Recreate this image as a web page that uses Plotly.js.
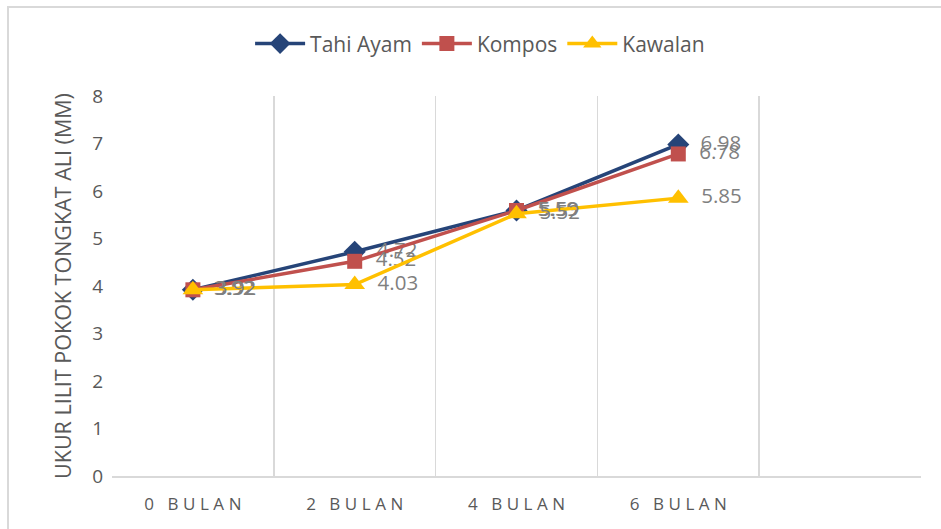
<!DOCTYPE html>
<html>
<head>
<meta charset="utf-8">
<script src="https://cdn.plot.ly/plotly-3.0.1.min.js"></script>
<style>
  html, body { margin: 0; padding: 0; background: #fff; }
  #wrap { position: relative; width: 941px; height: 529px; }
  #chart { width: 941px; height: 529px; }
  #frame { position: absolute; left: 7px; top: 6px; width: 960px; height: 560px;
           border-left: 2px solid #d9d9d9; border-top: 2px solid #d9d9d9; pointer-events: none; }
</style>
</head>
<body>
<div id="wrap">
  <div id="chart"></div>
  <div id="frame"></div>
</div>
<script>
// Data
const categories = ['0 BULAN', '2 BULAN', '4 BULAN', '6 BULAN'];
const tahiAyam = [3.92, 4.72, 5.59, 6.98];
const kompos   = [3.92, 4.52, 5.59, 6.78];
const kawalan  = [3.92, 4.03, 5.52, 5.85];
const seriesNames = ['Tahi Ayam', 'Kompos', 'Kawalan'];

const xIdx = categories.map((c, i) => i);
const spaced = s => s.split('').join('\u2009\u200A');

const labelFont = { family: 'Open Sans, sans-serif', size: 20.5, color: '#7f7f7f' };

function trace(name, y, color, symbol, msize) {
  return {
    type: 'scatter', mode: 'lines+markers+text', name: name,
    x: xIdx, y: y,
    line: { color: color, width: 3.5 },
    marker: { color: color, symbol: symbol, size: msize },
    text: y.map(v => v.toFixed(2)),
    texttemplate: '  %{text}',
    textposition: 'middle right',
    textfont: labelFont,
    cliponaxis: false
  };
}

const data = [
  trace(seriesNames[0], tahiAyam, '#264478', 'diamond', 17),
  trace(seriesNames[1], kompos,   '#C0504D', 'square', 15),
  trace(seriesNames[2], kawalan,  '#FFC000', 'triangle-up', 18)
];

const layout = {
  width: 941, height: 529,
  margin: { l: 112, r: 20, t: 96, b: 53 },
  paper_bgcolor: '#ffffff', plot_bgcolor: '#ffffff',
  font: { family: 'Open Sans, sans-serif', color: '#595959' },
  showlegend: true,
  legend: {
    orientation: 'h', x: 0.455, xanchor: 'center', y: 1.137, yanchor: 'middle',
    font: { size: 21, color: '#595959' }, itemwidth: 50, traceorder: 'normal'
  },
  xaxis: {
    range: [-0.5, 4.5],
    tickmode: 'array', tickvals: xIdx, ticktext: categories.map(spaced),
    tickfont: { size: 17, color: '#595959' },
    showgrid: false, zeroline: false,
    showline: true, linecolor: '#d9d9d9', linewidth: 1.5,
    ticks: '', ticklabelstandoff: 12,
    minor: { tick0: 0.5, dtick: 1, showgrid: true, gridcolor: '#d9d9d9', gridwidth: 1.5, ticks: '' }
  },
  yaxis: {
    range: [0, 8], dtick: 1,
    tickfont: { size: 19, color: '#595959' },
    showgrid: false, zeroline: false, showline: false, ticks: '',
    ticklabelstandoff: 8,
    title: { text: 'UKUR LILIT POKOK TONGKAT ALI (MM)', font: { size: 21.5, color: '#595959' }, standoff: 14 }
  }
};

Plotly.newPlot('chart', data, layout, { displayModeBar: false, staticPlot: true });
</script>
</body>
</html>
